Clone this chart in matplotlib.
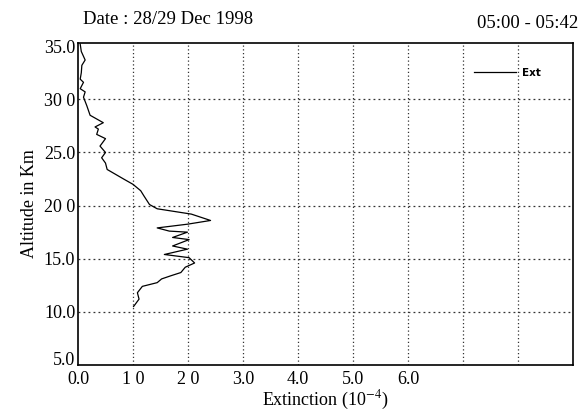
import matplotlib
matplotlib.use("Agg")
import matplotlib.pyplot as plt
import matplotlib.transforms as mtransforms

# Data
altitude = [10.5, 11.2, 11.8, 12.4, 12.75, 13.1, 13.4, 13.7, 14.2, 14.6, 15.1, 15.4,
            15.9, 16.2, 16.8, 17.0, 17.5, 17.6, 17.9, 18.25, 18.6, 19.2, 19.7, 20.1,
            20.9, 21.4, 22.0, 22.5, 23.4, 24.0, 24.5, 25.0, 25.3, 25.6, 26.3, 26.7,
            27.2, 27.4, 27.8, 28.5, 29.4, 30.2, 30.7, 31.0, 31.6, 31.9, 32.5, 33.2,
            33.7, 34.5, 35.2]
extinction = [1.01, 1.11, 1.08, 1.17, 1.44, 1.52, 1.69, 1.87, 1.95, 2.12, 2.02, 1.57,
              1.99, 1.72, 2.02, 1.72, 1.99, 1.66, 1.44, 1.99, 2.41, 2.06, 1.44, 1.30,
              1.20, 1.14, 1.00, 0.83, 0.53, 0.50, 0.43, 0.50, 0.45, 0.40, 0.50, 0.34,
              0.37, 0.31, 0.46, 0.22, 0.16, 0.10, 0.13, 0.04, 0.10, 0.04, 0.06, 0.07,
              0.13, 0.06, 0.04]

x_ticks = [0, 1, 2, 3, 4, 5, 6]
x_tick_labels = ["0.0", "1 0", "2 0", "3.0", "4.0", "5.0", "6.0"]
y_ticks = [5, 10, 15, 20, 25, 30, 35]
y_tick_labels = ["5.0", "10.0", "15.0", "20 0", "25.0", "30 0", "35.0"]
x_grid = [1, 2, 3, 4, 5, 6, 7, 8]
y_grid = [10, 15, 20, 25, 30]

plt.rcParams['font.family'] = ['Liberation Serif', 'DejaVu Serif']
plt.rcParams['mathtext.fontset'] = 'stix'

W, H = 588, 416
fig = plt.figure(figsize=(W / 100, H / 100), dpi=100)
ax = fig.add_axes([78 / W, (H - 365) / H, (573 - 78) / W, (365 - 43) / H])

for xv in x_grid:
    ax.axvline(xv, color='#333333', lw=0.9, ls=(0, (1, 2)), zorder=1)
for yv in y_grid:
    ax.axhline(yv, color='#333333', lw=0.9, ls=(0, (1.5, 2.5)), zorder=1)

ax.plot(extinction, altitude, color='black', lw=0.9, label='Ext', zorder=3)

ax.set_xlim(0, 9)
ax.set_ylim(5, 35.3)
ax.set_xticks(x_ticks)
ax.set_xticklabels(x_tick_labels, fontsize=13)
ax.set_yticks(y_ticks)
ax.set_yticklabels(y_tick_labels, fontsize=13)
ax.tick_params(length=0, pad=2)
ax.tick_params(axis='x', pad=4)
for s in ax.spines.values():
    s.set_linewidth(1.2)
    s.set_color('black')

# lift the bottom y label slightly, as in the reference
lab0 = ax.get_yticklabels()[0]
lab0.set_transform(lab0.get_transform() +
                   mtransforms.ScaledTranslation(0, 5 / 72, fig.dpi_scale_trans))

ax.set_xlabel("Extinction (10$^{-4}$)", fontsize=13, labelpad=1)
ax.set_ylabel("Altitude in Km", fontsize=13, labelpad=4)

fig.text(83 / W, 1 - 20 / H, "Date : 28/29 Dec 1998", fontsize=13.5, ha='left', va='center')
fig.text(578 / W, 1 - 23 / H, "05:00 - 05:42", fontsize=13.5, ha='right', va='center')

leg = ax.legend(loc='center left', bbox_to_anchor=(474 / W, 1 - 73 / H),
                bbox_transform=fig.transFigure, frameon=False, borderpad=0,
                borderaxespad=0, handlelength=4, handletextpad=0.6,
                prop={'family': 'DejaVu Sans', 'weight': 'bold', 'size': 7.5})

fig.savefig("out.png", dpi=100)
